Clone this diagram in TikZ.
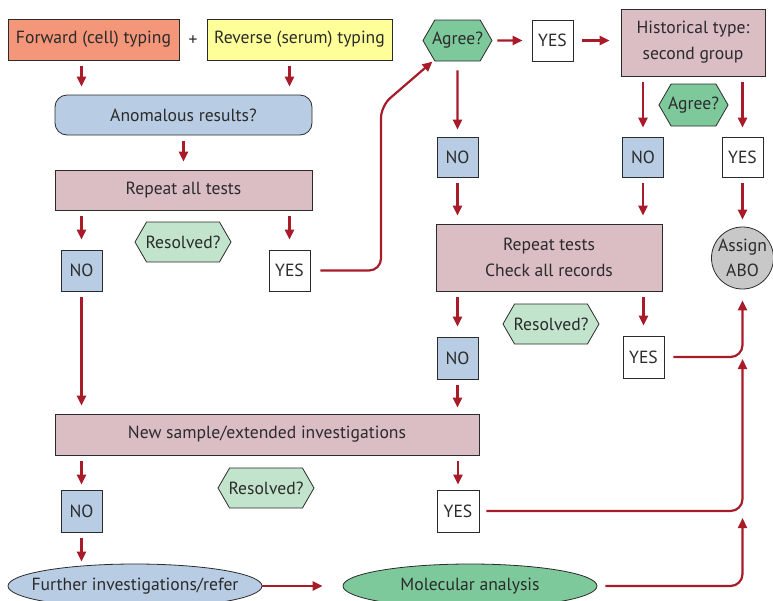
\documentclass[tikz,border=0pt]{standalone}
\usepackage{fontspec}
\setmainfont{PT Sans}
\usetikzlibrary{arrows.meta,shapes.symbols,shapes.geometric}

\definecolor{Forward}{HTML}{F4967A}
\definecolor{Reverse}{HTML}{FFFF99}
\definecolor{Query}{HTML}{B8CCE4}
\definecolor{Repeat}{HTML}{DBBDC4}
\definecolor{Agree}{HTML}{7DC99B}
\definecolor{Resolved}{HTML}{C2E3CC}
\definecolor{Assign}{HTML}{C8C8C8}
\definecolor{Link}{HTML}{A81C2A}
\definecolor{Ink}{HTML}{2B2B2B}

\begin{document}
\begin{tikzpicture}[x=1pt, y=-1pt,
  every node/.style={font=\fontsize{17.6}{26}\selectfont, text=Ink},
  box/.style={draw=Ink, line width=0.8pt, minimum height=41pt, inner sep=2pt},
  answer/.style={box, minimum width=41pt},
  hexa/.style={signal, signal to=east and west, signal pointer angle=120, draw=Ink, line width=0.8pt, minimum height=40pt, inner xsep=-3pt, inner ysep=2pt},
  blob/.style={ellipse, draw=Ink, line width=0.8pt, minimum width=254pt, minimum height=44pt, inner xsep=-40pt, inner ysep=0pt},
  link/.style={draw=Link, line width=2.2pt, -{Triangle[width=9pt,length=10pt]}, shorten <=6pt, shorten >=8pt}]

  \useasboundingbox (0,0) rectangle (773,600);
  \clip (0,0) rectangle (773,600);

  %%%%%%%%%% First typing %%%%%%%%%%
  \node[box, fill=Forward, minimum width=171pt] (fwd) at (93.5,39.5) {Forward (cell) typing};
  \node (plus) at (193,41) {+};
  \node[box, fill=Reverse, minimum width=185pt] (rev) at (299.5,39.5) {Reverse (serum) typing};
  \node[box, fill=Query, rounded corners=12pt, minimum width=257pt, minimum height=40pt] (anom) at (183.5,115) {Anomalous results?};
  \node[box, fill=Repeat, minimum width=257pt, minimum height=40pt] (rep1) at (183.5,190) {Repeat all tests};
  \node[hexa, fill=Resolved, minimum width=96pt] (res1) at (183,242) {Resolved?};
  \node[answer, fill=Query] (no1) at (81.5,270.5) {NO};
  \node[answer, fill=white] (yes1) at (289.5,270.5) {YES};

  %%%%%%%%%% Historical type %%%%%%%%%%
  \node[hexa, fill=Agree, minimum width=69pt, minimum height=41pt] (agr1) at (457.5,40.5) {Agree?};
  \node[answer, fill=white] (yes2) at (552.5,40.5) {YES};
  \node[box, fill=Repeat, minimum width=144pt, minimum height=67pt, align=center] (hist) at (693,42.5) {Historical type:\\second group};
  \node[hexa, fill=Agree, minimum width=69pt, minimum height=42pt] (agr2) at (693.5,105) {Agree?};
  \node[answer, fill=Query, minimum height=40pt] (no2) at (457.5,157) {NO};
  \node[answer, fill=Query, minimum height=40pt] (no3) at (643,157) {NO};
  \node[answer, fill=white, minimum height=40pt] (yes3) at (742.5,157) {YES};

  %%%%%%%%%% Repeat and check %%%%%%%%%%
  \node[box, fill=Repeat, minimum width=226pt, minimum height=67pt, align=center] (rep2) at (549,257.5) {Repeat tests\\Check all records};
  \node[circle, draw=Ink, line width=0.8pt, fill=Assign, minimum size=62pt, inner sep=-4pt, align=center, font=\fontsize{17.6}{25}\selectfont] (abo) at (742.5,258) {Assign\\ABO};
  \node[hexa, fill=Resolved, minimum width=96pt] (res2) at (551,324) {Resolved?};
  \node[answer, fill=Query, minimum height=42pt] (no4) at (457.5,358) {NO};
  \node[answer, fill=white, minimum height=42pt] (yes4) at (643.5,357) {YES};

  %%%%%%%%%% New sample %%%%%%%%%%
  \node[box, fill=Repeat, minimum width=424pt] (newsmp) at (267,434.5) {New sample/extended investigations};
  \node[hexa, fill=Resolved, minimum width=96pt] (res3) at (266,488) {Resolved?};
  \node[answer, fill=Query, minimum height=42pt] (no5) at (81.5,511) {NO};
  \node[answer, fill=white, minimum height=42pt, minimum width=42pt] (yes5) at (458,511) {YES};
  \node[blob, fill=Query] (further) at (135,586) {Further investigations/refer};
  \node[blob, fill=Agree] (molec) at (470,586) {Molecular analysis};

  %%%%%%%%%% Points pour les coudes %%%%%%%%%%
  \coordinate (bend) at (381,106);
  \coordinate (join1) at (yes4 -| abo);
  \coordinate (join2) at (yes5 -| abo);

  %%%%%%%%%% Arrows %%%%%%%%%%
  \draw[link] (fwd.south -| no1) -- (anom.north -| no1);
  \draw[link] (rev.south -| yes1) -- (anom.north -| yes1);
  \draw[link] (anom.south) -- (rep1.north);
  \draw[link, shorten >=10pt] (rep1.south -| no1) -- (no1);
  \draw[link, shorten >=10pt] (rep1.south -| yes1) -- (yes1);
  \draw[link] (no1) -- (newsmp.north -| no1);
  \draw[link, rounded corners=12pt, shorten <=10pt, shorten >=2pt] (yes1) -- (yes1 -| bend) -- (bend) -- (agr1.220);

  \draw[link, shorten <=5pt, shorten >=9pt] (agr1) -- (yes2);
  \draw[link, shorten <=9pt, shorten >=11pt] (yes2) -- (yes2 -| hist.west);
  \draw[link, shorten <=9pt, shorten >=7pt] (agr1) -- (no2);
  \draw[link, shorten >=9pt] (hist.south -| no3) -- (no3);
  \draw[link, shorten >=9pt] (hist.south -| yes3) -- (yes3);
  \draw[link] (no2) -- (rep2.north -| no2);
  \draw[link] (no3) -- (rep2.north -| no3);
  \draw[link, shorten >=7pt] (yes3) -- (abo);

  \draw[link, shorten >=10pt] (rep2.south -| no4) -- (no4);
  \draw[link, shorten >=10pt] (rep2.south -| yes4) -- (yes4);
  \draw[link, rounded corners=12pt, shorten <=9pt, shorten >=11pt] (yes4) -| (abo);
  \draw[link, shorten >=6pt] (no4) -- (newsmp.north -| no4);

  \draw[link, shorten >=5pt] (newsmp.south -| no5) -- (no5);
  \draw[link, shorten >=5pt] (newsmp.south -| yes5) -- (yes5);
  \draw[link, rounded corners=12pt, shorten <=7pt, shorten >=2pt] (yes5) -| (join1);
  \draw[link, shorten >=2pt] (no5) -- (further.north -| no5);
  \draw[link, shorten <=0pt, shorten >=20pt] (further) -- (molec);
  \draw[link, rounded corners=12pt, shorten <=8pt, shorten >=7pt] (molec) -| (join2);

\end{tikzpicture}
\end{document}
